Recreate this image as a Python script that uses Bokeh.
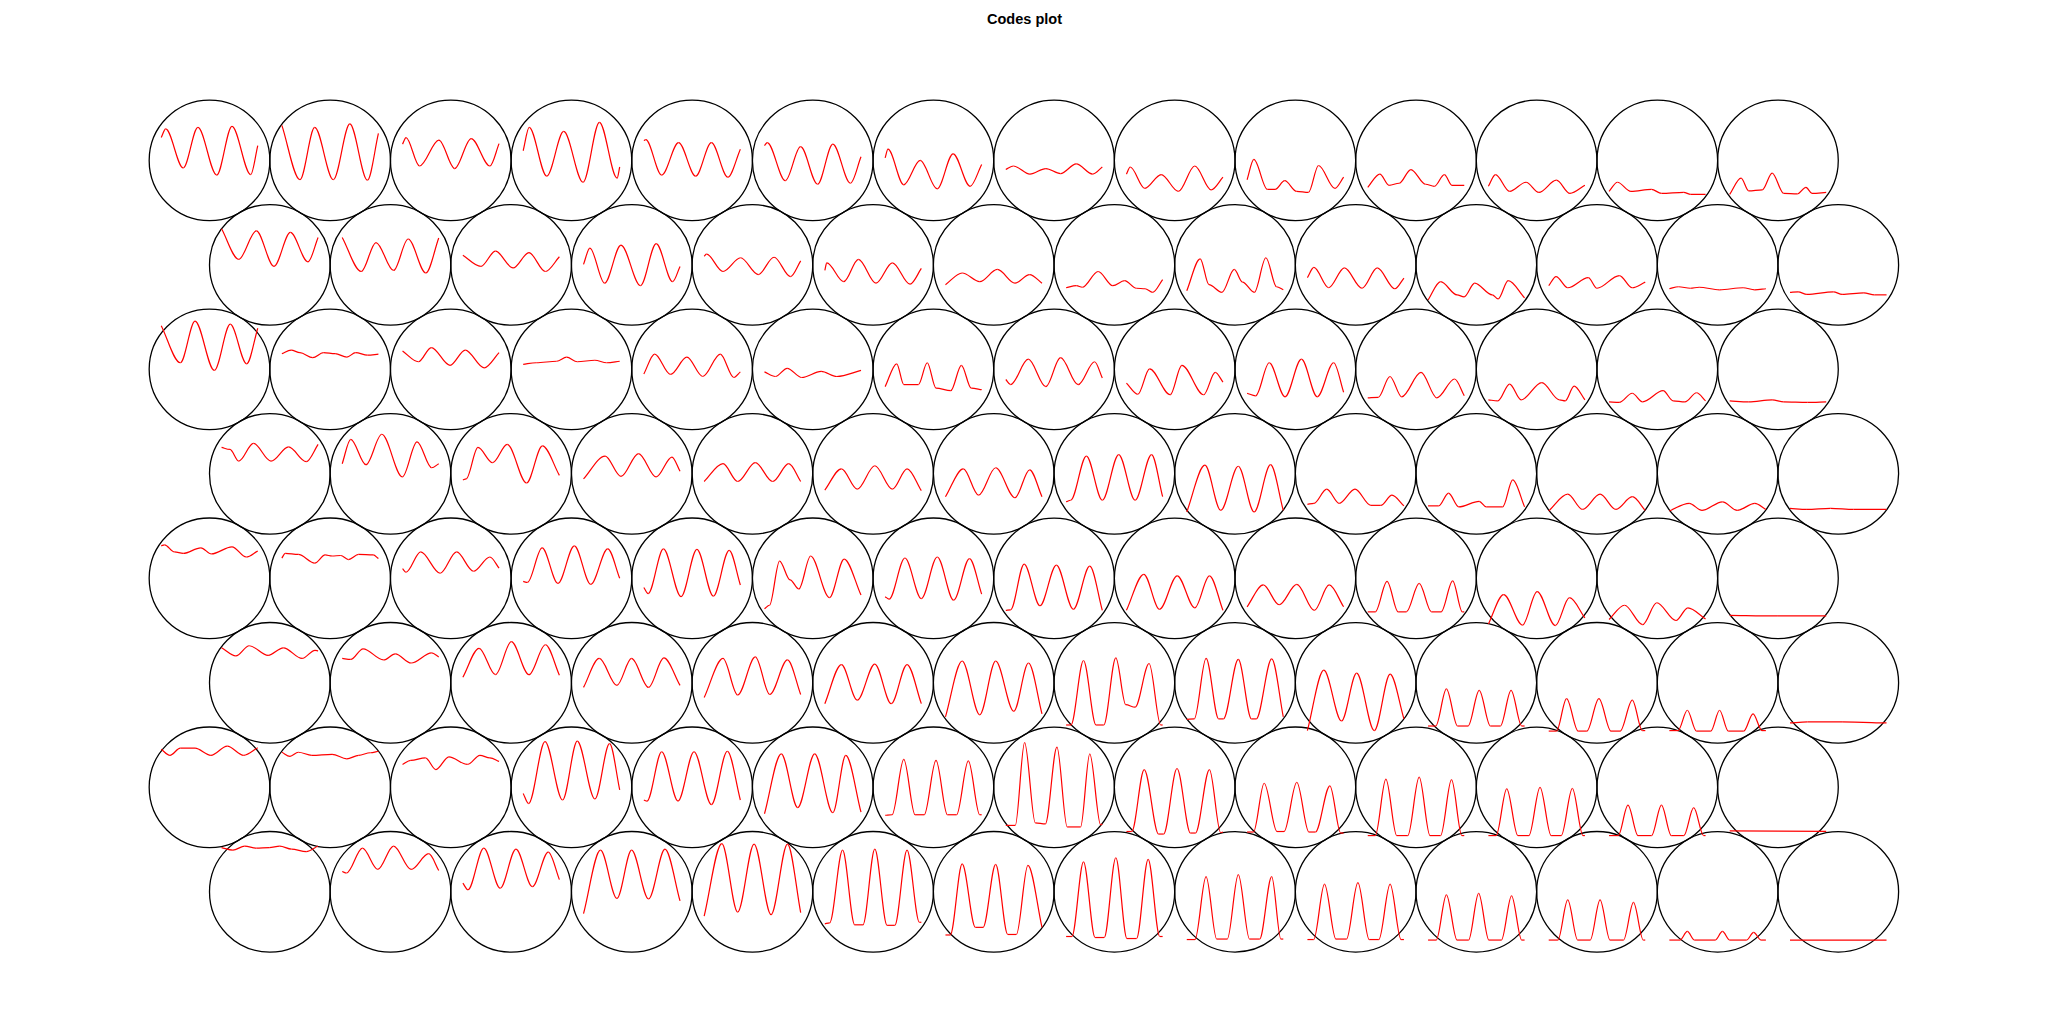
import math
from bokeh.plotting import figure
from bokeh.models import Range1d, Label
from bokeh.embed import file_html
from bokeh.resources import INLINE

# ---------------------------------------------------------------
# SOM codebook vectors, 14 x 8 hexagonal map (rows listed top to bottom).
# Each unit: t = position along the code vector (0..100),
#            v = code value at that position.
# ---------------------------------------------------------------
row1_t = [
    [0, 4.6, 22.8, 38, 57.5, 73.3, 92.7, 100],
    [0, 18.7, 34, 53.3, 70.4, 88.6, 100],
    [0, 3.6, 17.6, 37.7, 54, 71.1, 90.5, 100],
    [0, 6.2, 24.4, 42, 62, 79, 97.3, 100],
    [0, 2, 18.5, 36, 53.7, 70, 87, 100],
    [0, 2.8, 21.6, 37.4, 55, 70.8, 89, 100],
    [0, 2.9, 19.3, 36.3, 53.9, 70.4, 88, 100],
    [0, 8, 25, 41.5, 56.7, 73, 90, 100],
    [0, 3.9, 19, 36, 53.8, 70.8, 87.8, 100],
    [0, 7, 21, 29, 39, 51.4, 63.6, 74, 91, 100],
    [0, 12.5, 22.2, 32.5, 44.7, 60, 69, 79.4, 87.3, 100],
    [0, 7.3, 22, 39, 52.3, 70.5, 84.5, 100],
    [0, 8.7, 22.7, 44, 54.3, 77.4, 84.6, 100],
    [0, 11.8, 19.7, 33.7, 44, 56, 70, 79, 85.3, 100],
]
row1_v = [
    [70, 78.5, 40, 80, 33, 81, 33.5, 62],
    [82, 28.5, 80, 28.5, 83.5, 28, 74],
    [63.5, 70, 42, 67.5, 39.5, 69, 42, 64],
    [57, 80, 32, 76, 26, 85, 30, 41],
    [67, 68, 33, 65, 32, 65, 31, 58.5],
    [62, 65, 27.5, 61, 24, 63.5, 25, 51],
    [50, 58.5, 23.5, 47.5, 19.5, 54, 22, 43.5],
    [38.5, 42, 34, 39.5, 34.5, 44, 34, 41],
    [34, 41, 20, 33.5, 17, 42, 18.5, 31],
    [28.5, 48.5, 19, 19, 27.5, 17, 16, 42.5, 20, 31],
    [21, 34, 23, 25, 38.5, 24, 22, 33.5, 23, 23],
    [22, 33.5, 17, 26, 16, 28, 15, 23],
    [17, 26, 17, 19, 15, 16, 14, 14],
    [14, 30, 17.5, 18.5, 35, 15, 14.5, 21, 15, 16],
]

row2_t = [
    [0, 17.8, 36, 54.3, 71.3, 89.5, 100],
    [0, 19.7, 35, 53.2, 68.3, 86.6, 100],
    [0, 18.6, 33.8, 52, 68.5, 85.5, 100],
    [0, 6.6, 21.8, 38.8, 59, 75.3, 92.3, 100],
    [0, 2.5, 19.5, 37.7, 56, 72.4, 89.4, 100],
    [0, 2, 19.6, 34.8, 53, 70, 88.3, 100],
    [0, 17.3, 35.5, 53.8, 72, 87.2, 100],
    [0, 10.7, 16.8, 33.2, 48.4, 60.6, 72.7, 81.8, 89.7, 100],
    [0, 13.9, 23, 36.4, 49.2, 57.7, 70, 82, 93, 100],
    [0, 6.7, 22, 38.3, 56.6, 72.4, 90.6, 100],
    [0, 13, 30, 37.3, 48.3, 66.5, 72.6, 83, 100],
    [0, 7.6, 19.7, 41, 50, 73.2, 86.5, 100],
    [0, 9.5, 21.7, 30.8, 52, 76.4, 88.5, 100],
    [0, 8.4, 17.5, 45, 54, 76.5, 87.4, 100],
]
row2_v = [
    [83, 53, 81, 46, 79.5, 50.5, 74.5],
    [74.5, 41, 69.5, 42, 73, 39.5, 74],
    [57, 46, 61, 44.5, 59.5, 41, 55.5],
    [48, 64, 29.5, 67, 27, 68.5, 31, 46],
    [56, 58, 41, 54.5, 38, 55, 36, 51.5],
    [42, 49.5, 31, 53, 29.5, 49.5, 28.5, 44],
    [28, 39.5, 31, 43, 29.5, 38, 29.5],
    [25, 27, 25.5, 41, 27, 32, 24.5, 24, 20.5, 33],
    [22, 53.5, 28, 20.5, 43, 30.5, 20.5, 54.5, 26, 23],
    [35, 45, 25, 44.5, 24.5, 44.5, 24, 34.5],
    [13, 31, 18, 16, 29.5, 18, 14, 32, 15],
    [27, 36, 25, 35, 24.5, 37, 25, 30.5],
    [24, 26, 24.5, 25.5, 23, 25, 23, 24],
    [20.5, 21, 18.5, 21, 18.5, 20, 18, 18],
]

row3_t = [
    [0, 19.8, 35, 55, 71.5, 88.5, 100],
    [0, 9.6, 18.7, 32, 43, 55.2, 67.3, 76.4, 88.6, 100],
    [0, 16.4, 29.8, 49.2, 65, 84.5, 100],
    [0, 13.5, 34.7, 45, 56, 74.3, 86.4, 100],
    [0, 11.2, 27.6, 44.6, 61, 79.2, 93.2, 100],
    [0, 11.3, 23.5, 38.6, 58.7, 75, 100],
    [0, 12, 19.3, 34.5, 43.6, 52.7, 68, 79, 89.2, 100],
    [0, 5, 23.3, 41.5, 56.7, 75, 92, 100],
    [0, 11.8, 24, 45.3, 57.4, 80, 92, 100],
    [0, 8.9, 22.9, 39.3, 56.3, 72.7, 89.7, 100],
    [0, 10.9, 23, 35.2, 55.2, 71.6, 90, 100],
    [0, 9.7, 22, 34, 55.3, 73.6, 79.6, 88.8, 100],
    [0, 10.5, 24, 34.8, 56, 66.4, 78.6, 90.7, 100],
    [0, 19.7, 44, 56, 80.4, 100],
]
row3_v = [
    [90.5, 54, 95, 46.5, 92, 53, 88],
    [63, 66.5, 64, 59, 64, 63, 59.5, 64, 61.5, 62.5],
    [65.5, 55, 69, 51.5, 66.5, 49, 64],
    [52.5, 54, 55.5, 59.5, 55, 56.5, 54, 55.5],
    [43, 62.5, 42.5, 59.5, 40.5, 62.5, 39.5, 45],
    [45, 40.5, 48.5, 39.5, 45.5, 40.5, 46.5],
    [30.5, 53, 32.5, 32.5, 54, 29, 26.5, 51.5, 29, 27.5],
    [37.5, 32.5, 57.5, 30.5, 59, 32.5, 55, 39],
    [34, 23, 48, 22.5, 51.5, 22.5, 44.5, 35],
    [24, 21.5, 54, 20.5, 57.5, 20.5, 54, 25],
    [19.5, 20, 40.5, 20.5, 44.5, 19.5, 38, 21.5],
    [17.5, 16.5, 33, 17.5, 34.5, 17.5, 16.5, 31, 17.5],
    [15.5, 15, 24, 15.5, 26.5, 16.5, 15.5, 24.5, 16.5],
    [16.5, 15.5, 17.5, 15.5, 15, 15.5],
]

row4_t = [
    [0, 8.7, 17.8, 33, 51.2, 69.4, 87.7, 100],
    [0, 8.8, 24.6, 41, 62.3, 77.5, 92.7, 100],
    [0, 3.4, 15.6, 30.8, 46, 66, 82.4, 100],
    [0, 22.4, 38.8, 57, 75.2, 91.6, 100],
    [0, 19.5, 34.7, 53, 71, 87.6, 100],
    [0, 17.2, 33.6, 51.8, 70, 85.2, 100],
    [0, 18.5, 34.3, 52, 72, 87.2, 100],
    [0, 4.7, 21, 37.5, 54.5, 71.5, 88.5, 100],
    [0, 18.8, 35.2, 53.4, 69.8, 86.8, 100],
    [0, 6.7, 20, 33, 49.3, 65.7, 76, 87.6, 100],
    [0, 11, 21.2, 31.8, 53, 60.3, 77.3, 87.7, 100],
    [0, 19.7, 35, 53.2, 69.6, 86.6, 100],
    [0, 20.5, 33.8, 55, 70.3, 88.5, 100],
    [0, 17.5, 42, 66, 100],
]
row4_v = [
    [73.5, 71.5, 60, 77.5, 60, 74, 59.5, 76.5],
    [57.5, 81.5, 56.5, 86.5, 44.5, 79, 53.5, 57.5],
    [41.5, 42.5, 73.5, 58.5, 76.5, 38.5, 75, 46],
    [42.5, 65, 45, 67.5, 44.5, 64, 50],
    [40, 57.5, 40, 58.5, 40, 57.5, 40],
    [31.5, 52.5, 32.5, 55.5, 32.5, 52.5, 31],
    [25, 52.5, 26.5, 53.5, 24, 51.5, 25],
    [20, 21.5, 65, 21.5, 66.5, 21.5, 66.5, 25],
    [10, 56, 11.5, 55, 10, 56.5, 11.5],
    [17.5, 18.5, 32.5, 18.5, 32.5, 16.5, 16.5, 26.5, 16],
    [16, 16, 28.5, 15, 20.5, 15, 15, 41.5, 15],
    [11, 27.5, 12.5, 27.5, 12.5, 25, 11.5],
    [11, 18.5, 11.5, 20, 11.5, 18.5, 12.5],
    [13.5, 12.5, 13.5, 12.5, 12.5],
]

row5_t = [
    [0, 3.4, 13.7, 22.8, 41, 52, 73.3, 88, 100],
    [0, 3.5, 17, 34, 44.8, 52, 61, 69, 79.5, 94.6, 100],
    [0, 3.6, 18.8, 39, 56, 73.5, 90.5, 100],
    [0, 4.4, 19.6, 36, 53, 70, 87.6, 100],
    [0, 4.5, 20.3, 38.5, 55, 72, 88.4, 100],
    [0, 5.2, 15.6, 26.5, 35.6, 47.8, 67.3, 82.5, 100],
    [0, 4.1, 20.5, 37.5, 54, 71, 87.4, 100],
    [0, 5, 19, 35.4, 52.4, 70, 87, 100],
    [0, 18, 34.3, 52.6, 70.8, 86, 100],
    [0, 16.8, 33.2, 51.5, 69.7, 85, 100],
    [0, 7.8, 20, 31.5, 40, 53.3, 66, 76, 88, 98, 100],
    [0, 15.8, 35.3, 50.5, 69.3, 84, 100],
    [0, 16, 34.8, 49.4, 69.4, 81.6, 100],
    [0, 50, 100],
]
row5_v = [
    [79.5, 80.5, 73.5, 72, 77.5, 71.5, 78.5, 68.5, 74.5],
    [67.5, 72, 71, 62.5, 70.5, 69.5, 70, 66, 71, 70.5, 67],
    [57, 53.5, 73.5, 52.5, 73.5, 54.5, 68.5, 57.5],
    [44.5, 43.5, 77.5, 42.5, 79.5, 41.5, 76.5, 47.5],
    [38.5, 32.5, 76.5, 29.5, 76, 30, 75, 41],
    [17.5, 21, 64.5, 46, 37, 69.5, 28.5, 66.5, 31],
    [29.5, 27, 67.5, 27.5, 68.5, 26, 67, 32],
    [16, 16.5, 61.5, 20.5, 60.5, 17, 59.5, 16],
    [16, 51.5, 17, 50, 18.5, 50, 16],
    [19.5, 41, 21.5, 41.5, 16, 41, 19.5],
    [14.5, 14.5, 44.5, 14.5, 14.5, 42.5, 14.5, 14.5, 45, 14.5, 14.5],
    [2.5, 31.5, 1.5, 34.5, 1, 28.5, 8.5],
    [7, 21, 2, 23.5, 6, 18.5, 7.5],
    [11, 10.5, 10.5],
]

row6_t = [
    [0, 14.8, 28.7, 48.2, 64, 83.4, 96.8, 100],
    [0, 8.8, 21.6, 42.8, 55, 71.4, 92.7, 100],
    [0, 16.8, 33.8, 50.2, 68.5, 85.5, 100],
    [0, 16.3, 34.6, 49.8, 67.4, 83.2, 100],
    [0, 19.5, 34.7, 53, 68, 86.3, 100],
    [0, 17.2, 33.6, 51.8, 68.8, 85.2, 100],
    [0, 17.3, 35.5, 52, 70.8, 86, 100],
    [0, 5, 18, 31, 39, 51.5, 61.8, 71.5, 86, 98, 100],
    [0, 7.8, 20, 33, 38, 53.4, 67, 72, 88, 100],
    [0, 17, 35.3, 51, 69.3, 85.7, 100],
    [0, 8, 19, 30.5, 41.5, 53, 64.5, 75, 86, 97, 100],
    [0, 8, 18.5, 30.5, 39.5, 52, 64.5, 74, 86.6, 97, 100],
    [0, 9, 18.6, 28, 43, 52, 61, 77, 86.7, 96, 100],
    [0, 18, 54, 100],
]
row6_v = [
    [82, 74, 84, 74.5, 82, 71.5, 79.5, 79],
    [71.5, 70.5, 81, 70, 76, 67, 77, 73],
    [53, 81.5, 55.5, 88, 55.5, 85, 55],
    [43, 71.5, 45, 71.5, 43, 72, 45],
    [33, 71.5, 35.5, 73, 36, 70, 36],
    [27, 65.5, 30.5, 66, 27, 65.5, 27],
    [14, 69, 16, 69, 19.5, 67, 17],
    [6, 6, 69.5, 6, 6, 72, 26, 23.5, 66.5, 6, 6],
    [11.5, 12, 71.5, 12, 12, 70.5, 12, 12, 71, 14],
    [0.5, 60, 10, 57, 0.5, 56, 12],
    [5, 5, 41.5, 5, 5, 40, 5, 5, 40, 5, 5],
    [0, 0, 32, 0, 0, 32, 0, 0, 30.5, 0.5, 0.5],
    [0.5, 0.5, 20.5, 0, 0, 20.5, 0, 0, 17, 0.5, 0.5],
    [8, 9, 9, 8],
]

row7_t = [
    [0, 9, 19.8, 35, 51.4, 68.4, 85.4, 100],
    [0, 8.4, 17, 31, 52, 67.3, 79.5, 91.6, 100],
    [0, 8.5, 23.7, 34.6, 48, 67.4, 80.2, 90.5, 100],
    [0, 5.6, 22.6, 40.8, 56, 74.3, 89.5, 100],
    [0, 3.3, 18.5, 35.4, 52, 70, 86.5, 100],
    [0, 17.4, 34.4, 52, 70.8, 84.2, 100],
    [0, 7.2, 19.3, 31, 40.5, 52.7, 64.5, 74, 86.2, 98, 100],
    [0, 9.8, 19.5, 30.6, 41, 53, 63.6, 77.5, 87, 98.3, 100],
    [0, 5.5, 18.4, 33.3, 38.5, 52.4, 66.3, 71.5, 86, 97.6, 100],
    [0, 6.6, 17.7, 31, 38.3, 51.5, 64, 70.8, 85.8, 97, 100],
    [0, 7.8, 18.8, 30, 41.5, 53.3, 64.5, 75.5, 86.8, 97.5, 100],
    [0, 8, 19, 30.5, 42, 53.5, 65, 75.5, 87, 98, 100],
    [0, 9.5, 19.6, 30, 44, 54.3, 64.5, 77.5, 87.7, 98, 100],
    [0, 100],
]
row7_v = [
    [85, 79, 86, 86, 79, 88, 79, 86.5],
    [82, 78, 82, 79, 80, 75.5, 79, 81.5, 83],
    [70, 74, 76.5, 65, 77.5, 70, 79, 76.5, 73],
    [41.5, 31.5, 92.5, 35, 93, 36, 90.5, 45],
    [35, 34, 82.5, 34, 82.5, 30.5, 83, 35],
    [21.5, 80.5, 27.5, 80.5, 22.5, 79, 23],
    [20, 20.5, 75, 20.5, 20.5, 74, 20.5, 20.5, 73.5, 20.5, 20.5],
    [10, 10, 91.5, 12.5, 11.5, 87, 8.5, 8.5, 80.5, 10.5, 11.5],
    [4, 4, 65, 1.5, 1.5, 66, 2.5, 2.5, 65, 3, 3.5],
    [3.5, 3.5, 51.5, 4, 4, 52.5, 3.5, 3.5, 49, 2.5, 2.5],
    [0, 0, 55.5, 0, 0, 57.5, 0, 0, 55, 0, 0],
    [0, 0, 46, 0, 0, 47.5, 0, 0, 46.5, 0, 0],
    [0, 0, 30, 0, 0, 30, 0, 0, 27.5, 0, 0],
    [4.7, 4.2],
]

row8_t = [
    [0, 11.7, 24, 36, 49.4, 60.3, 72.5, 87.7, 100],
    [0, 4.5, 21, 36.8, 53.2, 71.4, 89.6, 100],
    [0, 5.3, 21.7, 38.7, 55, 72, 88.5, 100],
    [0, 17.6, 34.6, 49.8, 67.4, 84.4, 100],
    [0, 18.3, 34.7, 51.7, 69.3, 86.3, 100],
    [0, 5, 18.4, 31, 39.5, 51.8, 64.5, 72.5, 85.2, 98, 100],
    [0, 5, 17.3, 31, 39, 52, 64.5, 73.5, 85.4, 100],
    [0, 6, 18, 30, 39.5, 51.5, 63, 73, 85, 97, 100],
    [0, 8.5, 20, 31, 42, 53.4, 65, 75.5, 88, 97.5, 100],
    [0, 6.5, 17.7, 29.5, 40.5, 52.3, 64, 74, 85.7, 97, 100],
    [0, 8.5, 19, 30, 42, 52.4, 63, 76, 86.5, 97, 100],
    [0, 9.5, 19.7, 30, 43, 53.2, 63.5, 77.5, 87.8, 98, 100],
    [0, 11, 18.6, 26, 47.5, 55, 62.5, 80, 87.3, 95, 100],
    [0, 100],
]
row8_v = [
    [91, 88.5, 92.5, 90.5, 91, 92.5, 89.5, 87, 92.5],
    [67.5, 66, 90.5, 69.5, 92.5, 69.5, 85, 68.5],
    [56, 49.5, 90.5, 51, 89.5, 52.5, 86.5, 59.5],
    [26, 88.5, 41, 88.5, 40.5, 89.5, 38.5],
    [23.5, 95, 27.5, 94.5, 25, 94.5, 27],
    [16, 17, 88.5, 15, 15, 89.5, 14.5, 14.5, 88.5, 17.5, 17.5],
    [5, 5, 75, 12.5, 12.5, 74.5, 5.5, 5.5, 73.5, 12.5],
    [3.5, 3.5, 77, 2.5, 2.5, 81, 1.5, 1.5, 79.5, 3.5, 3.5],
    [0.5, 0.5, 62.5, 1, 1, 64.5, 1, 1, 62.5, 1, 1],
    [0.5, 0.5, 55, 1, 1, 56.5, 0.5, 0.5, 55, 0.5, 0.5],
    [0, 0, 44.5, 0, 0, 46, 0, 0, 43.5, 0, 0],
    [0, 0, 39.5, 0, 0, 39.5, 0, 0, 37, 0, 0],
    [0, 0, 8.5, 0, 0, 8.5, 0, 0, 7.5, 0, 0],
    [0, 0],
]

rows_t = [row1_t, row2_t, row3_t, row4_t, row5_t, row6_t, row7_t, row8_t]
rows_v = [row1_v, row2_v, row3_v, row4_v, row5_v, row6_v, row7_v, row8_v]

XDIM, YDIM = 14, 8
TITLE = "Codes plot"

# ---------------------------------------------------------------
W, H = 2048, 1024
UNIT = 120.65          # pixels per grid unit
LEFT_PX = 209.0        # first column centre, from left
BOTTOM_PX = 132.7      # bottom row centre, from bottom

p = figure(width=W, height=H,
           x_range=Range1d(-LEFT_PX / UNIT, (W - LEFT_PX) / UNIT),
           y_range=Range1d(-BOTTOM_PX / UNIT, (H - BOTTOM_PX) / UNIT),
           x_axis_type=None, y_axis_type=None,
           output_backend="svg", toolbar_location=None,
           min_border=0, min_border_left=0, min_border_right=0,
           min_border_top=0, min_border_bottom=0)
p.grid.visible = False
p.outline_line_color = None
p.background_fill_color = "white"
p.border_fill_color = "white"

all_v = [v for rv in rows_v for unit in rv for v in unit]
vmin, vmax = min(all_v), max(all_v)

sq3 = math.sqrt(3) / 2
ux, uy = [], []
bx0, by0, bx1, by1, bcx0, bcy0, bcx1, bcy1 = ([] for _ in range(8))

for r in range(YDIM):
    for c in range(XDIM):
        cx = c + 0.5 * (r % 2)
        cy = (YDIM - 1 - r) * sq3
        ux.append(cx)
        uy.append(cy)
        T = rows_t[r][c]
        V = rows_v[r][c]
        xs = [cx - 0.4 + 0.8 * t / 100.0 for t in T]
        ys = [cy + 0.8 * ((v - vmin) / (vmax - vmin) - 0.5) for v in V]
        n = len(xs)
        for k in range(n - 1):
            x0, y0, x1, y1 = xs[k], ys[k], xs[k + 1], ys[k + 1]
            dx = x1 - x0
            c0y = y0 + (y1 - y0) / 3.0 if k == 0 else y0
            c1y = y1 - (y1 - y0) / 3.0 if k == n - 2 else y1
            bx0.append(x0); by0.append(y0); bx1.append(x1); by1.append(y1)
            bcx0.append(x0 + dx / 3.0); bcy0.append(c0y)
            bcx1.append(x1 - dx / 3.0); bcy1.append(c1y)

p.circle(x=ux, y=uy, radius=0.5, fill_color=None,
         line_color="black", line_width=1.3)

p.bezier(x0=bx0, y0=by0, x1=bx1, y1=by1,
         cx0=bcx0, cy0=bcy0, cx1=bcx1, cy1=bcy1,
         line_color="red", line_width=1.2)

p.add_layout(Label(x=W / 2, y=H - 18.5, x_units="screen", y_units="screen",
                   text=TITLE, text_font="Liberation Sans",
                   text_font_style="bold", text_font_size="14.5px",
                   text_align="center", text_baseline="middle",
                   text_color="black"))

open("out.html", "w").write(file_html(p, INLINE))
